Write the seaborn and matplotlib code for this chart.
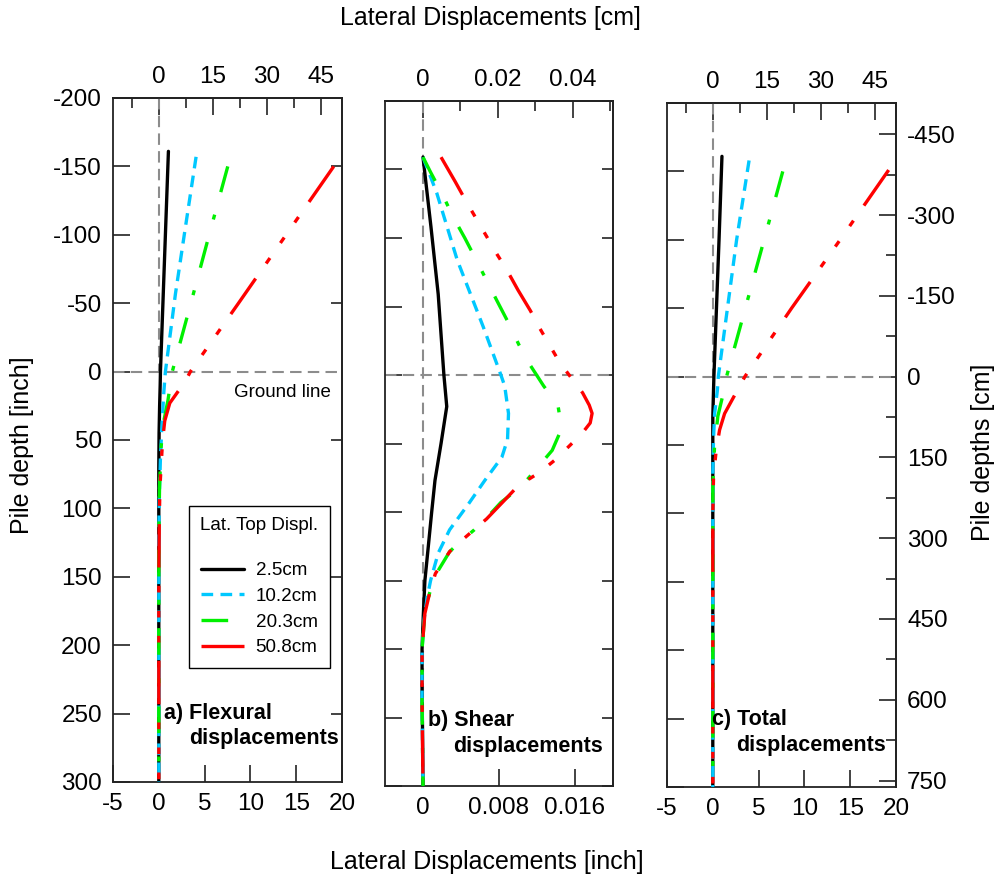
"""
Pile lateral displacement profiles: flexural, shear and total
"""

import matplotlib.pyplot as plt
import matplotlib.ticker as mticker
import seaborn as sns

sns.set_theme(style="white")
plt.rcParams['font.family'] = ['Liberation Sans', 'DejaVu Sans']
plt.rcParams['axes.unicode_minus'] = False
plt.rcParams['text.color'] = 'black'

CM = 2.54

# lateral top displacement cases
case_labels = ['2.5cm', '10.2cm', '20.3cm', '50.8cm']

# a) flexural displacements [inch] vs depth [inch]
flex_d_25 = [-161, -100, -50, 0, 10, 25, 45, 70, 300]
flex_x_25 = [1.05, 0.72, 0.45, 0.18, 0.15, 0.09, 0.03, 0.0, 0.0]
flex_d_102 = [-157, -100, -57, 0, 15, 30, 45, 65, 90, 120, 300]
flex_x_102 = [4.07, 2.78, 1.82, 0.72, 0.55, 0.42, 0.3, 0.17, 0.06, 0.0, 0.0]
flex_d_203 = [-150, -100, -50, 0, 21, 36, 55, 85, 120, 300]
flex_x_203 = [7.53, 5.5, 3.5, 1.47, 1.0, 0.55, 0.25, 0.08, 0.0, 0.0]
flex_d_508 = [-150, -100, -50, 0, 7, 23, 36, 50, 60, 85, 110, 150, 300]
flex_x_508 = [19.1, 13.9, 8.7, 3.45, 2.9, 1.2, 0.65, 0.42, 0.33, 0.12, 0.05, 0.0, 0.0]

# b) shear displacements [inch]
shear_d_25 = [-159, -108, -59, 0, 23, 50, 77, 101, 125, 150, 174, 200, 230, 260, 300]
shear_x_25 = [0, 0.00084, 0.0016, 0.0022, 0.0025, 0.0019, 0.00126, 0.0009, 0.00056,
              0.0002, 0.00004, -0.0001, -0.0001, -0.00005, 0]
shear_d_102 = [-159, -133, -84, -35, 0, 8, 28, 47, 60, 77, 94, 113, 130, 150, 162,
               179, 200, 240, 270, 300]
shear_x_102 = [0, 0.00144, 0.0036, 0.00635, 0.0082, 0.0086, 0.009, 0.0089, 0.0083,
               0.0065, 0.0048, 0.0028, 0.0016, 0.0008, 0.00045, 0.0001, -0.0001,
               -0.0001, -0.00005, 0]
shear_d_203 = [-159, -148, -131, -115, -100, -84, -69, -54, -38, -22, -7, 8, 22, 39,
               55, 68, 81, 93, 102, 113, 123, 129, 145, 159, 174, 200, 240, 300]
shear_x_203 = [0, 0.0008, 0.0021, 0.0032, 0.0044, 0.0056, 0.0067, 0.0078, 0.009,
               0.0101, 0.0113, 0.0127, 0.0142, 0.0146, 0.0136, 0.012, 0.0104, 0.0082,
               0.007, 0.0054, 0.0037, 0.0028, 0.0014, 0.0007, 0.0002, -0.0001,
               -0.0001, 0]
shear_d_508 = [-159, -141, -126, -113, -88, -77, -62, -47, -34, -9, 2, 13, 22, 28,
               35, 43, 62, 71, 81, 92, 105, 123, 129, 145, 159, 174, 200, 240, 300]
shear_x_508 = [0.0019, 0.0034, 0.0046, 0.0057, 0.0078, 0.0088, 0.01, 0.0113, 0.0123,
               0.0144, 0.0156, 0.0168, 0.0175, 0.0178, 0.0176, 0.0167, 0.0139, 0.0123,
               0.01, 0.0085, 0.0067, 0.0037, 0.0028, 0.0013, 0.0007, 0.0002, -0.0001,
               -0.0001, 0]

# c) total displacements [inch]
total_d_25 = [-161, -100, -50, 0, 12, 30, 300]
total_x_25 = [1.0, 0.68, 0.4, 0.12, 0.07, 0.0, 0.0]
total_d_102 = [-158, -100, -50, 0, 10, 27, 45, 70, 300]
total_x_102 = [3.96, 2.6, 1.6, 0.6, 0.5, 0.2, 0.08, 0.0, 0.0]
total_d_203 = [-150, -100, -50, 0, 5, 29, 51, 80, 300]
total_x_203 = [7.64, 5.6, 3.55, 1.5, 1.4, 0.55, 0.19, 0.0, 0.0]
total_d_508 = [-151, -100, -50, 0, 27, 39, 54, 73, 100, 300]
total_x_508 = [19.2, 13.9, 8.6, 3.5, 1.29, 0.74, 0.37, 0.08, 0.0, 0.0]

# tick positions
top_ticks_ac = [0, 15, 30, 45]
top_minor_ac = [-7.5, 7.5, 22.5, 37.5]
top_ticks_b = [0, 0.02, 0.04]
top_minor_b = [0.01, 0.03, 0.05]
right_ticks_a = [-150, -50, 50, 150, 250]
right_ticks_c = [-450, -300, -150, 0, 150, 300, 450, 600, 750]
right_minor_c = [-375, -225, -75, 75, 225, 375, 525, 675]

colors = ['black', '#00c8ff', '#00f000', '#ff0000']
styles = ['-', (0, (3.5, 2.2)), (0, (8, 7, 1.5, 7)),
          (0, (13, 5.5, 2, 5.5, 2, 5.5, 2, 5.5))]
LW = 2.4
REF = dict(color='#8c8c8c', lw=1.5, ls=(0, (5.5, 3)), zorder=1)
SPINE = '#222222'
TICK_FS = 17.5


def style_ticks(axis_obj, pad):
    axis_obj.tick_params(which='both', direction='in', colors=SPINE, width=1.2,
                         labelsize=TICK_FS, labelcolor='black', pad=pad)
    axis_obj.tick_params(which='major', length=12)
    axis_obj.tick_params(which='minor', length=7)


fig = plt.figure(figsize=(9.99, 8.82), dpi=100)
ax_a = fig.add_axes([113 / 999, 1 - 782 / 882, 229 / 999, 684 / 882])
ax_b = fig.add_axes([385 / 999, 1 - 786 / 882, 228 / 999, 685 / 882])
ax_c = fig.add_axes([667 / 999, 1 - 787 / 882, 229 / 999, 684 / 882])

panels = [
    (ax_a, [flex_d_25, flex_d_102, flex_d_203, flex_d_508],
     [flex_x_25, flex_x_102, flex_x_203, flex_x_508]),
    (ax_b, [shear_d_25, shear_d_102, shear_d_203, shear_d_508],
     [shear_x_25, shear_x_102, shear_x_203, shear_x_508]),
    (ax_c, [total_d_25, total_d_102, total_d_203, total_d_508],
     [total_x_25, total_x_102, total_x_203, total_x_508]),
]

for ax, depths, values in panels:
    for i in range(4):
        sns.lineplot(x=values[i], y=depths[i], ax=ax, sort=False, estimator=None,
                     color=colors[i], linestyle=styles[i], linewidth=LW,
                     label=case_labels[i] if ax is ax_a else None, zorder=3 + i)
    ax.set_ylim(300, -200)
    ax.set_xlabel('')
    ax.set_ylabel('')
    ax.axhline(0, **REF)
    for s in ax.spines.values():
        s.set_color(SPINE)
        s.set_linewidth(1.3)
    ax.yaxis.set_major_locator(mticker.MultipleLocator(50))
    ax.yaxis.set_minor_locator(mticker.MultipleLocator(25))
    style_ticks(ax, 8)
    ax.tick_params(top=False, right=False, bottom=True, left=True)

# x scales
for ax in (ax_a, ax_c):
    ax.set_xlim(-5, 20)
    ax.xaxis.set_major_locator(mticker.MultipleLocator(5))
    ax.xaxis.set_minor_locator(mticker.MultipleLocator(2.5))
    ax.plot([0, 0], [-200, 0], **REF)
ax_b.set_xlim(-0.004, 0.02)
ax_b.xaxis.set_major_locator(mticker.MultipleLocator(0.008))
ax_b.xaxis.set_minor_locator(mticker.MultipleLocator(0.004))
ax_b.axvline(0, **REF)

fmt = mticker.FuncFormatter(lambda v, p: '0' if abs(v) < 1e-12 else f'{v:g}')
ax_b.xaxis.set_major_formatter(fmt)

# top axes in cm
for ax, major, minor in ((ax_a, top_ticks_ac, top_minor_ac),
                         (ax_b, top_ticks_b, top_minor_b),
                         (ax_c, top_ticks_ac, top_minor_ac)):
    top = ax.secondary_xaxis('top', functions=(lambda x: x * CM, lambda x: x / CM))
    top.xaxis.set_major_locator(mticker.FixedLocator(major))
    top.xaxis.set_minor_locator(mticker.FixedLocator(minor))
    top.xaxis.set_major_formatter(fmt)
    style_ticks(top, 7)
    top.spines['top'].set_color(SPINE)
    top.spines['top'].set_linewidth(1.3)

ax_b.tick_params(labelleft=False)
ax_c.tick_params(labelleft=False)

# right side ticks
ra = ax_a.secondary_yaxis('right')
ra.yaxis.set_major_locator(mticker.FixedLocator(right_ticks_a))
rb = ax_b.secondary_yaxis('right')
rb.yaxis.set_major_locator(mticker.MultipleLocator(50))
for r in (ra, rb):
    r.yaxis.set_minor_locator(mticker.NullLocator())
    r.tick_params(direction='in', length=8, width=1.2, colors=SPINE, labelright=False)
    r.spines['right'].set_color(SPINE)

rc = ax_c.secondary_yaxis('right', functions=(lambda y: y * CM, lambda y: y / CM))
rc.yaxis.set_major_locator(mticker.FixedLocator(right_ticks_c))
rc.yaxis.set_minor_locator(mticker.FixedLocator(right_minor_c))
style_ticks(rc, 8)
rc.spines['right'].set_color(SPINE)
rc.spines['right'].set_linewidth(1.3)

# legend
handles, labels = ax_a.get_legend_handles_labels()
leg = ax_a.legend(handles, labels, title='Lat. Top Displ.\n', loc='upper left',
                  bbox_to_anchor=(0.29, 0.418), fontsize=13.6, title_fontsize=13.6,
                  frameon=True, fancybox=False, edgecolor='black', framealpha=1,
                  handlelength=2.3, handletextpad=0.6, labelspacing=0.45,
                  borderpad=0.6)
leg.get_frame().set_linewidth(1.0)

# annotations
ax_a.text(18.8, 15, 'Ground line', ha='right', va='center', fontsize=13.5)
bold = dict(fontsize=15.5, fontweight='bold', va='center', ha='left', zorder=10)
ax_a.text(0.58, 250, 'a) Flexural', **bold)
ax_a.text(3.3, 268, 'displacements', **bold)
ax_b.text(0.00056, 252, 'b) Shear', **bold)
ax_b.text(0.0032, 271.5, 'displacements', **bold)
ax_c.text(-0.14, 251, 'c) Total', **bold)
ax_c.text(2.5, 270, 'displacements', **bold)

fig.text(490 / 999, 1 - 18 / 882, 'Lateral Displacements [cm]', ha='center',
         va='center', fontsize=18)
fig.text(487 / 999, 1 - 862 / 882, 'Lateral Displacements [inch]', ha='center',
         va='center', fontsize=18)
fig.text(22 / 999, 1 - 445 / 882, 'Pile depth [inch]', rotation=90, ha='center',
         va='center', fontsize=18)
fig.text(983 / 999, 1 - 452 / 882, 'Pile depths [cm]', rotation=90, ha='center',
         va='center', fontsize=18)

fig.savefig('out.png', dpi=100)
